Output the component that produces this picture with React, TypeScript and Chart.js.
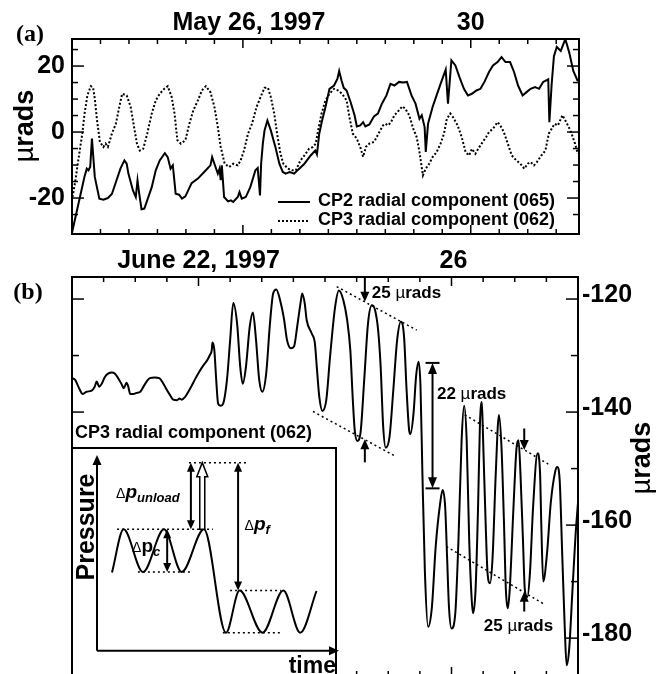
import React, { useEffect, useRef } from 'react';
import { Chart, registerables } from 'chart.js';

Chart.register(...registerables);

const SANS = '"Liberation Sans", Arial, Helvetica, sans-serif';
const SERIF = '"Liberation Serif", "Times New Roman", serif';
const B = (px: number) => `bold ${px}px ${SANS}`;
const N = (px: number) => `${px}px ${SANS}`;
const BI = (px: number) => `italic bold ${px}px ${SANS}`;

// ---------------- Panel (a): May 1997 ----------------
const cp2Day = [23.0, 23.22, 23.26, 23.29, 23.32, 23.35, 23.4, 23.48, 23.55, 23.63, 23.7, 23.77, 23.85, 23.92, 23.96, 23.99, 24.07, 24.12, 24.15, 24.18, 24.22, 24.27, 24.32, 24.4, 24.47, 24.54, 24.63, 24.68, 24.73, 24.77, 24.82, 24.88, 24.93, 24.99, 25.1, 25.21, 25.32, 25.43, 25.46, 25.5, 25.56, 25.59, 25.61, 25.63, 25.67, 25.74, 25.79, 25.83, 25.91, 25.94, 25.98, 26.05, 26.13, 26.22, 26.26, 26.3, 26.32, 26.35, 26.38, 26.43, 26.49, 26.57, 26.64, 26.7, 26.75, 26.82, 26.9, 26.97, 27.08, 27.19, 27.27, 27.3, 27.34, 27.39, 27.45, 27.52, 27.6, 27.66, 27.69, 27.73, 27.77, 27.82, 27.89, 27.96, 28.0, 28.06, 28.11, 28.15, 28.22, 28.3, 28.37, 28.44, 28.52, 28.59, 28.66, 28.74, 28.81, 28.88, 28.96, 29.03, 29.1, 29.14, 29.19, 29.21, 29.25, 29.33, 29.4, 29.47, 29.56, 29.6, 29.66, 29.73, 29.8, 29.88, 29.95, 30.02, 30.1, 30.17, 30.24, 30.32, 30.39, 30.47, 30.54, 30.61, 30.69, 30.76, 30.83, 30.91, 30.98, 31.05, 31.13, 31.2, 31.27, 31.33, 31.36, 31.38, 31.42, 31.46, 31.51, 31.58, 31.66, 31.73, 31.8, 31.88];
const cp2Val = [-30.5, -13.5, -11.1, -11.6, -10.5, -2.0, -13.6, -20.2, -20.5, -20.0, -18.8, -15.2, -11.1, -8.6, -9.6, -12.6, -17.7, -19.7, -14.6, -18.7, -23.4, -23.2, -20.7, -16.7, -11.6, -8.6, -6.4, -7.6, -11.1, -10.1, -18.7, -19.0, -20.2, -19.5, -15.5, -14.1, -12.1, -10.1, -7.6, -9.6, -12.6, -11.1, -14.6, -10.1, -19.7, -21.0, -20.7, -21.2, -19.7, -18.2, -20.2, -19.7, -16.7, -11.6, -10.9, -19.2, -9.6, -3.5, 0.5, 3.5, 0.5, -4.5, -9.6, -12.1, -12.6, -12.1, -12.6, -11.4, -9.6, -7.1, -5.6, -6.8, -0.5, 3.5, 7.6, 13.1, 14.1, 16.2, 18.5, 15.7, 13.4, 12.6, 9.1, 5.1, 1.7, 2.0, 3.0, 1.7, 2.3, 4.7, 5.6, 8.6, 11.1, 14.6, 14.1, 15.2, 15.0, 15.2, 11.1, 8.6, 4.0, 5.1, 1.5, -6.0, 2.5, 7.6, 11.1, 14.6, 18.9, 8.6, 21.7, 20.2, 16.7, 13.1, 11.1, 11.6, 12.6, 13.1, 15.2, 18.2, 20.2, 21.2, 22.7, 21.2, 21.2, 18.2, 14.1, 11.1, 12.1, 13.1, 13.6, 13.1, 15.2, 15.7, 16.0, 3.0, 14.5, 23.0, 25.8, 24.6, 28.2, 24.0, 18.5, 15.4];

const cp3aDay = [23.01, 23.06, 23.11, 23.18, 23.22, 23.27, 23.33, 23.37, 23.4, 23.44, 23.49, 23.55, 23.59, 23.63, 23.7, 23.77, 23.83, 23.88, 23.96, 24.03, 24.09, 24.14, 24.19, 24.25, 24.32, 24.4, 24.47, 24.54, 24.62, 24.68, 24.75, 24.8, 24.85, 24.91, 24.99, 25.06, 25.13, 25.21, 25.28, 25.35, 25.43, 25.5, 25.56, 25.61, 25.68, 25.76, 25.83, 25.91, 25.96, 26.02, 26.09, 26.16, 26.24, 26.31, 26.38, 26.44, 26.49, 26.55, 26.6, 26.66, 26.71, 26.79, 26.86, 26.93, 27.01, 27.08, 27.16, 27.23, 27.28, 27.32, 27.38, 27.45, 27.52, 27.6, 27.67, 27.74, 27.82, 27.87, 27.93, 28.0, 28.07, 28.11, 28.16, 28.22, 28.3, 28.35, 28.41, 28.46, 28.5, 28.55, 28.6, 28.66, 28.74, 28.8, 28.85, 28.92, 28.99, 29.05, 29.1, 29.16, 29.21, 29.27, 29.33, 29.4, 29.47, 29.53, 29.58, 29.64, 29.69, 29.77, 29.84, 29.91, 29.97, 30.02, 30.08, 30.13, 30.19, 30.27, 30.32, 30.39, 30.47, 30.52, 30.58, 30.65, 30.72, 30.8, 30.87, 30.94, 31.0, 31.05, 31.11, 31.16, 31.24, 31.31, 31.37, 31.42, 31.47, 31.53, 31.61, 31.66, 31.72, 31.77, 31.83, 31.88];
const cp3aVal = [-19.7, -14.6, -8.6, -0.5, 5.5, 11.1, 13.9, 13.5, 10.1, 3.5, -3.0, -4.5, -3.5, -4.5, -0.5, 2.5, 7.6, 11.6, 11.1, 7.6, 1.5, -3.5, -5.6, -5.1, -0.5, 5.6, 9.6, 11.6, 13.1, 13.9, 10.6, 5.6, -2.5, -3.5, -2.5, 2.5, 6.6, 9.6, 12.6, 13.9, 12.1, 7.6, 1.5, -4.5, -9.6, -10.6, -9.6, -10.1, -8.6, -5.6, -0.5, 2.5, 7.6, 10.6, 13.4, 13.4, 10.6, 5.6, -0.5, -6.6, -9.6, -11.1, -11.6, -11.6, -8.6, -7.1, -5.1, -4.5, -3.5, 0.5, 5.6, 9.6, 11.6, 13.1, 12.6, 11.6, 9.6, 4.5, -0.5, -2.0, -5.1, -7.5, -4.5, -3.5, -3.0, -1.5, 0.5, 2.0, 2.5, 2.0, 3.0, 5.1, 6.6, 7.8, 7.1, 5.1, 1.0, -1.5, -6.1, -13.1, -11.1, -9.6, -7.6, -6.1, -3.5, -0.5, 4.0, 5.6, 4.5, 2.0, -1.5, -6.1, -7.1, -5.1, -6.6, -5.1, -3.5, -1.5, 0.0, 1.0, 3.0, 2.0, 0.0, -3.5, -7.1, -8.6, -9.6, -11.1, -9.6, -9.1, -10.1, -9.1, -7.1, -5.6, -0.5, 1.0, 2.5, 2.0, 5.1, 3.5, 1.5, -0.5, -3.5, -6.6];

const aMajorDays = [26, 30];
const aMajorLabels = ['May 26, 1997', '30'];
const aYLabels = [-20, 0, 20];
const aLegend = ['CP2 radial component (065)', 'CP3 radial component (062)'];

// ---------------- Panel (b): June 1997 ----------------
const cp3bDay = [20.0, 20.05, 20.1, 20.17, 20.23, 20.31, 20.36, 20.39, 20.43, 20.47, 20.52, 20.57, 20.63, 20.68, 20.73, 20.79, 20.82, 20.86, 20.89, 20.92, 20.97, 21.02, 21.08, 21.13, 21.18, 21.23, 21.31, 21.38, 21.44, 21.5, 21.55, 21.6, 21.66, 21.7, 21.73, 21.79, 21.84, 21.89, 21.94, 22.01, 22.08, 22.14, 22.18, 22.21, 22.22, 22.25, 22.28, 22.31, 22.35, 22.39, 22.45, 22.5, 22.55, 22.61, 22.66, 22.7, 22.75, 22.81, 22.86, 22.91, 22.96, 23.01, 23.07, 23.13, 23.18, 23.23, 23.29, 23.35, 23.4, 23.46, 23.51, 23.56, 23.62, 23.64, 23.68, 23.71, 23.79, 23.84, 23.87, 23.91, 23.96, 24.02, 24.08, 24.16, 24.22, 24.29, 24.35, 24.4, 24.44, 24.47, 24.51, 24.56, 24.62, 24.68, 24.74, 24.79, 24.84, 24.88, 24.92, 24.96, 25.02, 25.08, 25.14, 25.2, 25.25, 25.29, 25.33, 25.35, 25.4, 25.44, 25.48, 25.51, 25.54, 25.58, 25.63, 25.69, 25.75, 25.82, 25.86, 25.9, 25.93, 25.96, 26.0, 26.06, 26.11, 26.16, 26.2, 26.24, 26.28, 26.32, 26.34, 26.38, 26.42, 26.45, 26.48, 26.5, 26.54, 26.57, 26.61, 26.65, 26.7, 26.75, 26.79, 26.83, 26.86, 26.89, 26.92, 26.98, 27.03, 27.06, 27.09, 27.13, 27.16, 27.2, 27.24, 27.29, 27.36, 27.4, 27.42, 27.45, 27.51, 27.57, 27.64, 27.67, 27.71, 27.75, 27.79, 27.82, 27.86, 27.91, 27.96, 28.0];
const cp3bVal = [-134.0, -134.3, -135.5, -136.8, -136.4, -136.2, -135.5, -134.6, -135.5, -135.0, -133.8, -133.2, -133.0, -133.2, -134.0, -135.2, -135.8, -134.8, -135.5, -136.8, -136.8, -136.6, -136.4, -135.5, -134.6, -134.0, -133.9, -134.0, -134.9, -136.1, -137.0, -137.8, -137.9, -137.6, -137.8, -137.3, -136.4, -135.4, -134.3, -132.9, -131.7, -130.8, -129.9, -129.0, -127.7, -129.0, -134.3, -138.5, -138.9, -138.5, -134.3, -127.3, -120.7, -124.3, -132.0, -135.0, -132.0, -124.9, -122.4, -127.3, -134.3, -136.4, -133.2, -124.3, -119.0, -118.3, -120.2, -123.4, -127.3, -128.7, -128.4, -124.9, -120.2, -119.0, -120.8, -123.7, -126.1, -127.8, -132.0, -137.3, -139.8, -137.9, -130.2, -121.4, -118.5, -120.2, -123.7, -129.0, -137.9, -143.2, -145.1, -143.8, -134.3, -124.3, -121.1, -121.9, -125.5, -132.0, -142.6, -146.3, -144.4, -136.1, -127.3, -124.0, -126.7, -136.1, -143.2, -143.9, -140.2, -133.7, -131.1, -135.5, -150.8, -168.5, -178.0, -174.5, -163.8, -156.2, -153.8, -156.8, -165.6, -174.5, -178.3, -175.6, -162.7, -145.0, -138.9, -145.0, -162.7, -173.3, -175.6, -171.5, -156.8, -142.0, -138.2, -145.0, -159.7, -168.5, -170.3, -165.6, -150.8, -140.5, -146.1, -159.7, -171.5, -174.7, -171.5, -156.8, -146.1, -145.0, -150.8, -162.7, -171.5, -172.7, -168.5, -156.8, -147.3, -150.8, -160.0, -170.0, -165.0, -156.0, -150.5, -149.7, -152.0, -165.0, -178.0, -184.8, -182.0, -172.0, -162.0, -156.0];

const bMajorDays = [22, 26];
const bMajorLabels = ['June 22, 1997', '26'];
const bYLabels = [-180, -160, -140, -120];
const bSeriesLabel = 'CP3 radial component (062)';
// envelope guide lines (dotted): [start, end] in days / µrads
const bGuideDays = [[24.185, 25.45], [23.81, 25.11], [26.21, 27.53], [25.92, 27.45]];
const bGuideVals = [[-117.8, -125.5], [-139.9, -147.8], [-140.5, -149.2], [-163.8, -173.9]];
// amplitude arrows (from -> tip)
const bArrowDays = [24.63, 24.63, 27.15, 27.15];
const bArrowFrom = [-116.1, -148.9, -142.9, -175.3];
const bArrowTo = [-120.5, -144.8, -146.7, -171.8];
// step arrow 22 µrads
const bStepDay = 25.7;
const bStepVals = [-131.3, -153.5];
// amplitude notes
const bNoteDays = [24.74, 25.77, 26.51];
const bNoteVals = [-118.8, -136.6, -177.7];
const bNoteNums = ['25', '22', '25'];

// ---------------- Inset schematic ----------------
const insetTime = [6.2, 11.0, 19.0, 27.7, 35.0, 44.2, 53.3, 58.9, 68.4, 77.0, 84.0, 90.7];
const insetPressure = [40.0, 62.0, 40.2, 62.0, 40.2, 62.0, 9.2, 30.7, 9.2, 30.7, 9.2, 30.5];
const insetLevelP = [96.1, 62.0, 40.2, 30.7, 9.2];
const insetLevelFrom = [38.0, 8.3, 16.9, 55.0, 52.0];
const insetLevelTo = [62.5, 47.9, 38.4, 76.0, 76.0];
const insetArrowT = [38.8, 58.3, 29.0];
const insetArrowTop = [96.1, 96.1, 62.0];
const insetArrowBot = [62.0, 30.7, 40.2];
const insetHollowT = 43.5;
const insetHollowP = [62.0, 96.1];
const insetLabelT = [7.9, 61.0, 14.5];
const insetLabelP = [80.6, 64.2, 53.0];
const insetLabelSub = ['unload', 'f', 'c'];

type Part = { t: string; f: string; dy?: number };

function rich(ctx: CanvasRenderingContext2D, parts: Part[], x: number, y: number, align: 'left' | 'center' | 'right' = 'left') {
  ctx.textAlign = 'left';
  ctx.textBaseline = 'alphabetic';
  let w = 0;
  for (const p of parts) { ctx.font = p.f; w += ctx.measureText(p.t).width; }
  let cx = align === 'left' ? x : align === 'center' ? x - w / 2 : x - w;
  for (const p of parts) {
    ctx.font = p.f;
    ctx.fillText(p.t, cx, y + (p.dy || 0));
    cx += ctx.measureText(p.t).width;
  }
}

function rotRich(ctx: CanvasRenderingContext2D, parts: Part[], cx: number, cy: number, base: number) {
  ctx.save();
  ctx.translate(cx, cy);
  ctx.rotate(-Math.PI / 2);
  rich(ctx, parts, 0, base, 'center');
  ctx.restore();
}

function seg(ctx: CanvasRenderingContext2D, x1: number, y1: number, x2: number, y2: number) {
  ctx.beginPath();
  ctx.moveTo(x1, y1);
  ctx.lineTo(x2, y2);
  ctx.stroke();
}

function headV(ctx: CanvasRenderingContext2D, x: number, tipY: number, dir: number, len = 10, hw = 4.5) {
  ctx.beginPath();
  ctx.moveTo(x, tipY);
  ctx.lineTo(x - hw, tipY - dir * len);
  ctx.lineTo(x + hw, tipY - dir * len);
  ctx.closePath();
  ctx.fill();
}

function headH(ctx: CanvasRenderingContext2D, tipX: number, y: number, len = 10, hw = 4.5) {
  ctx.beginPath();
  ctx.moveTo(tipX, y);
  ctx.lineTo(tipX - len, y - hw);
  ctx.lineTo(tipX - len, y + hw);
  ctx.closePath();
  ctx.fill();
}

function arrowV(ctx: CanvasRenderingContext2D, x: number, fromY: number, tipY: number, len = 10, hw = 4.5) {
  const dir = tipY > fromY ? 1 : -1;
  seg(ctx, x, fromY, x, tipY - dir * (len - 2));
  headV(ctx, x, tipY, dir, len, hw);
}

function dblArrowV(ctx: CanvasRenderingContext2D, x: number, y1: number, y2: number, len = 10, hw = 4.5) {
  const top = Math.min(y1, y2);
  const bot = Math.max(y1, y2);
  seg(ctx, x, top + len - 2, x, bot - len + 2);
  headV(ctx, x, top, -1, len, hw);
  headV(ctx, x, bot, 1, len, hw);
}

const panelA = {
  id: 'panelA',
  afterDraw(chart: any) {
    const ctx: CanvasRenderingContext2D = chart.ctx;
    const a = chart.chartArea;
    const xs = chart.scales.x;
    const ys = chart.scales.y;
    ctx.save();
    ctx.strokeStyle = '#000';
    ctx.fillStyle = '#000';
    ctx.setLineDash([]);
    ctx.lineWidth = 1.5;
    for (let d = 23.5; d < xs.max; d += 0.5) {
      const px = xs.getPixelForValue(d);
      const len = aMajorDays.includes(d) ? 9 : 5;
      seg(ctx, px, a.top, px, a.top + len);
      seg(ctx, px, a.bottom, px, a.bottom - len);
    }
    for (let v = -25; v <= 25; v += 5) {
      const py = ys.getPixelForValue(v);
      const len = v % 20 === 0 ? 12 : 6;
      seg(ctx, a.left, py, a.left + len, py);
      seg(ctx, a.right, py, a.right - len, py);
    }
    ctx.lineWidth = 2;
    ctx.strokeRect(a.left, a.top, a.right - a.left, a.bottom - a.top);

    ctx.font = B(25);
    ctx.textAlign = 'right';
    ctx.textBaseline = 'middle';
    aYLabels.forEach((v) => ctx.fillText(String(v), a.left - 7, ys.getPixelForValue(v)));
    ctx.textAlign = 'center';
    aMajorDays.forEach((d, i) => ctx.fillText(aMajorLabels[i], xs.getPixelForValue(d) + (i === 0 ? 6 : 0), a.top - 16));

    // panel letter and axis title
    ctx.font = `bold 24px ${SERIF}`;
    ctx.fillText('(a)', 30, 35);
    rotRich(ctx, [{ t: '\u00B5', f: N(27) }, { t: 'rads', f: B(27) }], 25, 126, 8);

    // legend
    ctx.lineWidth = 2;
    seg(ctx, 278, 202, 310, 202);
    ctx.setLineDash([2, 2]);
    seg(ctx, 278, 221, 310, 221);
    ctx.setLineDash([]);
    ctx.font = B(18);
    ctx.textAlign = 'left';
    ctx.textBaseline = 'middle';
    ctx.fillText(aLegend[0], 318, 201);
    ctx.fillText(aLegend[1], 318, 220);
    ctx.restore();
  },
};

const panelB = {
  id: 'panelB',
  afterDraw(chart: any) {
    const ctx: CanvasRenderingContext2D = chart.ctx;
    const a = chart.chartArea;
    const xs = chart.scales.x;
    const ys = chart.scales.y;
    ctx.save();
    ctx.strokeStyle = '#000';
    ctx.fillStyle = '#000';
    ctx.setLineDash([]);
    ctx.lineWidth = 1.5;
    for (let d = 20.5; d < xs.max; d += 0.5) {
      const px = xs.getPixelForValue(d);
      const len = bMajorDays.includes(d) ? 9 : 5;
      seg(ctx, px, a.top, px, a.top + len);
      seg(ctx, px, a.bottom, px, a.bottom - len);
    }
    for (let v = -180; v <= -120; v += 10) {
      const py = ys.getPixelForValue(v);
      const len = v % 20 === 0 ? 12 : 7;
      seg(ctx, a.left, py, a.left + len, py);
      seg(ctx, a.right, py, a.right - len, py);
    }
    ctx.lineWidth = 2;
    ctx.strokeRect(a.left, a.top, a.right - a.left, a.bottom - a.top);

    ctx.font = B(25);
    ctx.textAlign = 'left';
    ctx.textBaseline = 'middle';
    bYLabels.forEach((v) => ctx.fillText(String(v), a.right + 4, ys.getPixelForValue(v) - 4));
    ctx.textAlign = 'center';
    bMajorDays.forEach((d, i) => ctx.fillText(bMajorLabels[i], xs.getPixelForValue(d) + (i === 1 ? 2 : 0), a.top - 16));

    ctx.font = `bold 24px ${SERIF}`;
    ctx.fillText('(b)', 28, 48);
    rotRich(ctx, [{ t: '\u00B5', f: N(27) }, { t: 'rads', f: B(27) }], 642, 213, 8);

    ctx.font = B(18);
    ctx.textAlign = 'left';
    ctx.fillText(bSeriesLabel, 75, 188);

    // dotted envelope guides
    ctx.lineWidth = 1.5;
    ctx.setLineDash([2, 3]);
    bGuideDays.forEach((dd, i) => {
      seg(ctx, xs.getPixelForValue(dd[0]), ys.getPixelForValue(bGuideVals[i][0]), xs.getPixelForValue(dd[1]), ys.getPixelForValue(bGuideVals[i][1]));
    });
    ctx.setLineDash([]);

    // amplitude arrows
    ctx.lineWidth = 2;
    bArrowDays.forEach((d, i) => {
      arrowV(ctx, xs.getPixelForValue(d), ys.getPixelForValue(bArrowFrom[i]), ys.getPixelForValue(bArrowTo[i]), 10, 4.5);
    });

    // 22 µrads step arrow with caps
    const sx = xs.getPixelForValue(bStepDay);
    const sTop = ys.getPixelForValue(bStepVals[0]);
    const sBot = ys.getPixelForValue(bStepVals[1]);
    dblArrowV(ctx, sx, sTop, sBot, 11, 4.5);
    seg(ctx, sx - 7, sTop, sx + 7, sTop);
    seg(ctx, sx - 7, sBot, sx + 7, sBot);

    // notes
    bNoteDays.forEach((d, i) => {
      const x = xs.getPixelForValue(d);
      const y = ys.getPixelForValue(bNoteVals[i]) + 6;
      rich(ctx, [{ t: bNoteNums[i] + ' ', f: B(17) }, { t: '\u00B5', f: N(17) }, { t: 'rads', f: B(17) }], x, y, 'left');
    });
    ctx.restore();
  },
};

const insetDeco = {
  id: 'insetDeco',
  beforeDraw(chart: any) {
    const ctx: CanvasRenderingContext2D = chart.ctx;
    ctx.save();
    ctx.fillStyle = '#fff';
    ctx.fillRect(1, 1, 264, 260);
    ctx.restore();
  },
  afterDraw(chart: any) {
    const ctx: CanvasRenderingContext2D = chart.ctx;
    const xs = chart.scales.x;
    const ys = chart.scales.y;
    ctx.save();
    ctx.strokeStyle = '#000';
    ctx.fillStyle = '#000';
    ctx.setLineDash([]);
    ctx.lineWidth = 2;
    ctx.strokeRect(1, 1, 264, 260);

    // axes
    const x0 = xs.getPixelForValue(0);
    const y0 = ys.getPixelForValue(0);
    const yTop = ys.getPixelForValue(100);
    const xEnd = xs.getPixelForValue(100);
    seg(ctx, x0, y0, x0, yTop + 8);
    headV(ctx, x0, yTop, -1, 10, 4.5);
    seg(ctx, x0, y0, xEnd - 8, y0);
    headH(ctx, xEnd, y0, 10, 4.5);

    // dotted levels
    ctx.lineWidth = 1.5;
    ctx.setLineDash([2, 3]);
    insetLevelP.forEach((p, i) => {
      const y = ys.getPixelForValue(p);
      seg(ctx, xs.getPixelForValue(insetLevelFrom[i]), y, xs.getPixelForValue(insetLevelTo[i]), y);
    });
    ctx.setLineDash([]);

    // double arrows
    ctx.lineWidth = 2;
    insetArrowT.forEach((t, i) => {
      dblArrowV(ctx, xs.getPixelForValue(t), ys.getPixelForValue(insetArrowTop[i]), ys.getPixelForValue(insetArrowBot[i]), 9, 4);
    });

    // hollow arrow
    const hx = xs.getPixelForValue(insetHollowT);
    const hb = ys.getPixelForValue(insetHollowP[0]);
    const ht = ys.getPixelForValue(insetHollowP[1]);
    const hw = 5.5, hl = 14, sw = 2.5;
    ctx.beginPath();
    ctx.moveTo(hx, ht);
    ctx.lineTo(hx + hw, ht + hl);
    ctx.lineTo(hx + sw, ht + hl);
    ctx.lineTo(hx + sw, hb);
    ctx.lineTo(hx - sw, hb);
    ctx.lineTo(hx - sw, ht + hl);
    ctx.lineTo(hx - hw, ht + hl);
    ctx.closePath();
    ctx.fillStyle = '#fff';
    ctx.fill();
    ctx.lineWidth = 1.5;
    ctx.stroke();
    ctx.fillStyle = '#000';

    // delta labels
    insetLabelT.forEach((t, i) => {
      const x = xs.getPixelForValue(t);
      const y = ys.getPixelForValue(insetLabelP[i]) + 5;
      const pFont = i === 2 ? B(19) : BI(19);
      rich(ctx, [{ t: '\u0394', f: N(14) }, { t: 'p', f: pFont }, { t: insetLabelSub[i], f: BI(13), dy: 4 }], x, y, 'left');
    });

    // axis titles
    rotRich(ctx, [{ t: 'Pressure', f: B(25) }], 14, 80, 9);
    ctx.font = B(23);
    ctx.textAlign = 'right';
    ctx.textBaseline = 'alphabetic';
    ctx.fillText('time', 265, 226);
    ctx.restore();
  },
};

function baseOptions(padding: any, xmin: number, xmax: number, ymin: number, ymax: number) {
  return {
    animation: false,
    responsive: false,
    maintainAspectRatio: false,
    devicePixelRatio: 1,
    events: [],
    layout: { padding },
    plugins: { legend: { display: false }, tooltip: { enabled: false } },
    elements: { point: { radius: 0 } },
    scales: {
      x: { type: 'linear', min: xmin, max: xmax, display: false },
      y: { type: 'linear', min: ymin, max: ymax, display: false },
    },
  } as any;
}

export default function App() {
  const refA = useRef<HTMLCanvasElement>(null);
  const refB = useRef<HTMLCanvasElement>(null);
  const refI = useRef<HTMLCanvasElement>(null);

  useEffect(() => {
    const chartA = new Chart(refA.current as HTMLCanvasElement, {
      type: 'line',
      data: {
        datasets: [
          {
            data: cp2Day.map((d, i) => ({ x: d, y: cp2Val[i] })),
            borderColor: '#000',
            borderWidth: 2,
            pointRadius: 0,
            tension: 0,
            fill: false,
          },
          {
            data: cp3aDay.map((d, i) => ({ x: d, y: cp3aVal[i] })),
            borderColor: '#000',
            borderWidth: 2,
            borderDash: [2, 2],
            pointRadius: 0,
            tension: 0,
            fill: false,
          },
        ],
      },
      options: baseOptions({ left: 72, right: 82, top: 39, bottom: 11 }, 23, 31.9, -30.9, 28.2),
      plugins: [panelA],
    });

    const chartB = new Chart(refB.current as HTMLCanvasElement, {
      type: 'line',
      data: {
        datasets: [
          {
            data: cp3bDay.map((d, i) => ({ x: d, y: cp3bVal[i] })),
            borderColor: '#000',
            borderWidth: 2,
            pointRadius: 0,
            cubicInterpolationMode: 'monotone',
            fill: false,
          },
        ],
      },
      options: baseOptions({ left: 72, right: 83, top: 32, bottom: 4 }, 20, 28, -186.7, -116.1),
      plugins: [panelB],
    });

    const chartI = new Chart(refI.current as HTMLCanvasElement, {
      type: 'line',
      data: {
        datasets: [
          {
            data: insetTime.map((t, i) => ({ x: t, y: insetPressure[i] })),
            borderColor: '#000',
            borderWidth: 2,
            pointRadius: 0,
            cubicInterpolationMode: 'monotone',
            fill: false,
          },
        ],
      },
      options: baseOptions({ left: 26, right: 3, top: 8, bottom: 25.3 }, 0, 100, 0, 100),
      plugins: [insetDeco],
    });

    return () => {
      chartA.destroy();
      chartB.destroy();
      chartI.destroy();
    };
  }, []);

  return (
    <div style={{ position: 'fixed', left: 0, top: 0, width: 661, height: 674, overflow: 'hidden', background: '#fff' }}>
      <canvas ref={refA} width={661} height={245} style={{ position: 'absolute', left: 0, top: 0, width: 661, height: 245 }} />
      <canvas ref={refB} width={661} height={435} style={{ position: 'absolute', left: 0, top: 245, width: 661, height: 435 }} />
      <canvas ref={refI} width={271} height={229} style={{ position: 'absolute', left: 71, top: 447, width: 271, height: 229 }} />
    </div>
  );
}
